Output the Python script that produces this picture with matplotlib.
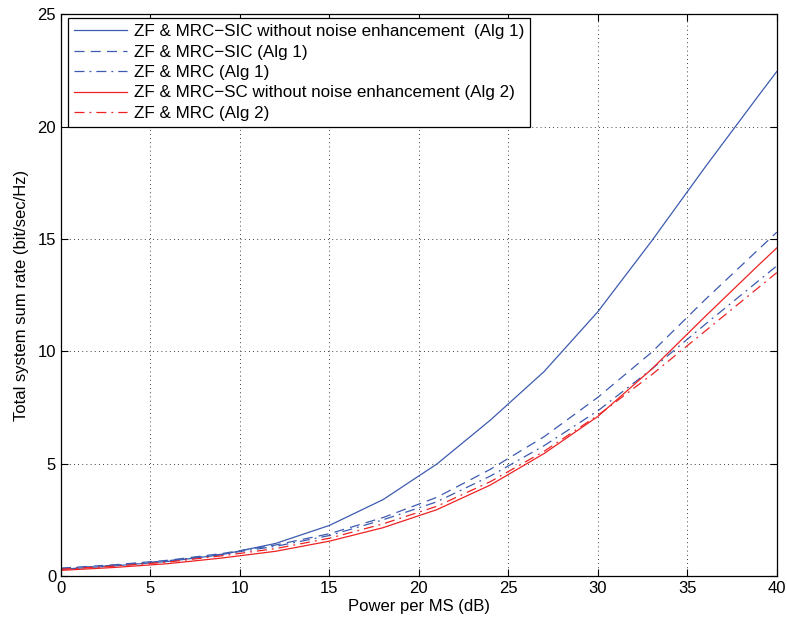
import matplotlib
matplotlib.use("Agg")
import matplotlib.pyplot as plt

plt.rcParams["font.family"] = ["Liberation Sans", "DejaVu Sans"]

power_db = [0, 3, 6, 9, 12, 15, 18, 21, 24, 27, 30, 33, 36, 39, 40]

sic_no_noise_alg1 = [0.3, 0.45, 0.65, 0.95, 1.45, 2.25, 3.4, 4.98, 6.94, 9.1, 11.76, 14.9, 18.2, 21.4, 22.45]
sic_alg1 = [0.35, 0.5, 0.7, 1.0, 1.38, 1.88, 2.6, 3.5, 4.75, 6.2, 7.95, 9.95, 12.3, 14.55, 15.3]
mrc_alg1 = [0.33, 0.48, 0.68, 0.97, 1.32, 1.8, 2.5, 3.3, 4.45, 5.8, 7.35, 9.2, 11.2, 13.15, 13.8]
sc_no_noise_alg2 = [0.25, 0.38, 0.55, 0.8, 1.1, 1.55, 2.15, 2.95, 4.05, 5.45, 7.1, 9.2, 11.55, 13.85, 14.6]
mrc_alg2 = [0.3, 0.44, 0.62, 0.9, 1.22, 1.68, 2.32, 3.1, 4.2, 5.55, 7.15, 8.95, 10.9, 12.85, 13.5]

labels = [
    "ZF & MRC\u2212SIC without noise enhancement  (Alg 1)",
    "ZF & MRC\u2212SIC (Alg 1)",
    "ZF & MRC (Alg 1)",
    "ZF & MRC\u2212SC without noise enhancement (Alg 2)",
    "ZF & MRC (Alg 2)",
]

blue = "#3d5bb0"
red = "#ee2222"

fig = plt.figure(figsize=(7.87, 6.2), dpi=100)
ax = fig.add_axes([0.0775, 0.071, 0.9095, 0.906])

ax.plot(power_db, sic_no_noise_alg1, color=blue, lw=0.9, ls="-", label=labels[0])
ax.plot(power_db, sic_alg1, color=blue, lw=0.9, ls=(0, (8, 5)), label=labels[1])
ax.plot(power_db, mrc_alg1, color=blue, lw=0.9, ls=(0, (8, 4, 1.5, 4)), label=labels[2])
ax.plot(power_db, sc_no_noise_alg2, color=red, lw=0.9, ls="-", label=labels[3])
ax.plot(power_db, mrc_alg2, color=red, lw=0.9, ls=(0, (8, 4, 1.5, 4)), label=labels[4])

ax.set_xlim(0, 40)
ax.set_ylim(0, 25)
ax.set_xticks(range(0, 41, 5))
ax.set_yticks(range(0, 26, 5))
ax.grid(True, color="black", ls=(0, (1, 4)), lw=0.6)
ax.tick_params(direction="in", labelsize=12, top=True, right=True, length=5)
for s in ax.spines.values():
    s.set_linewidth(0.9)

ax.set_xlabel("Power per MS (dB)", fontsize=12, labelpad=2)
ax.set_ylabel("Total system sum rate (bit/sec/Hz)", fontsize=12, labelpad=6)

leg = ax.legend(
    loc="upper left",
    bbox_to_anchor=(0.0098, 0.993),
    borderaxespad=0,
    fontsize=12.25,
    handlelength=3.1,
    handletextpad=0.4,
    labelspacing=0.32,
    borderpad=0.35,
    fancybox=False,
    framealpha=1,
    edgecolor="black",
)
leg.get_frame().set_linewidth(0.9)

fig.savefig("out.png", dpi=100)
